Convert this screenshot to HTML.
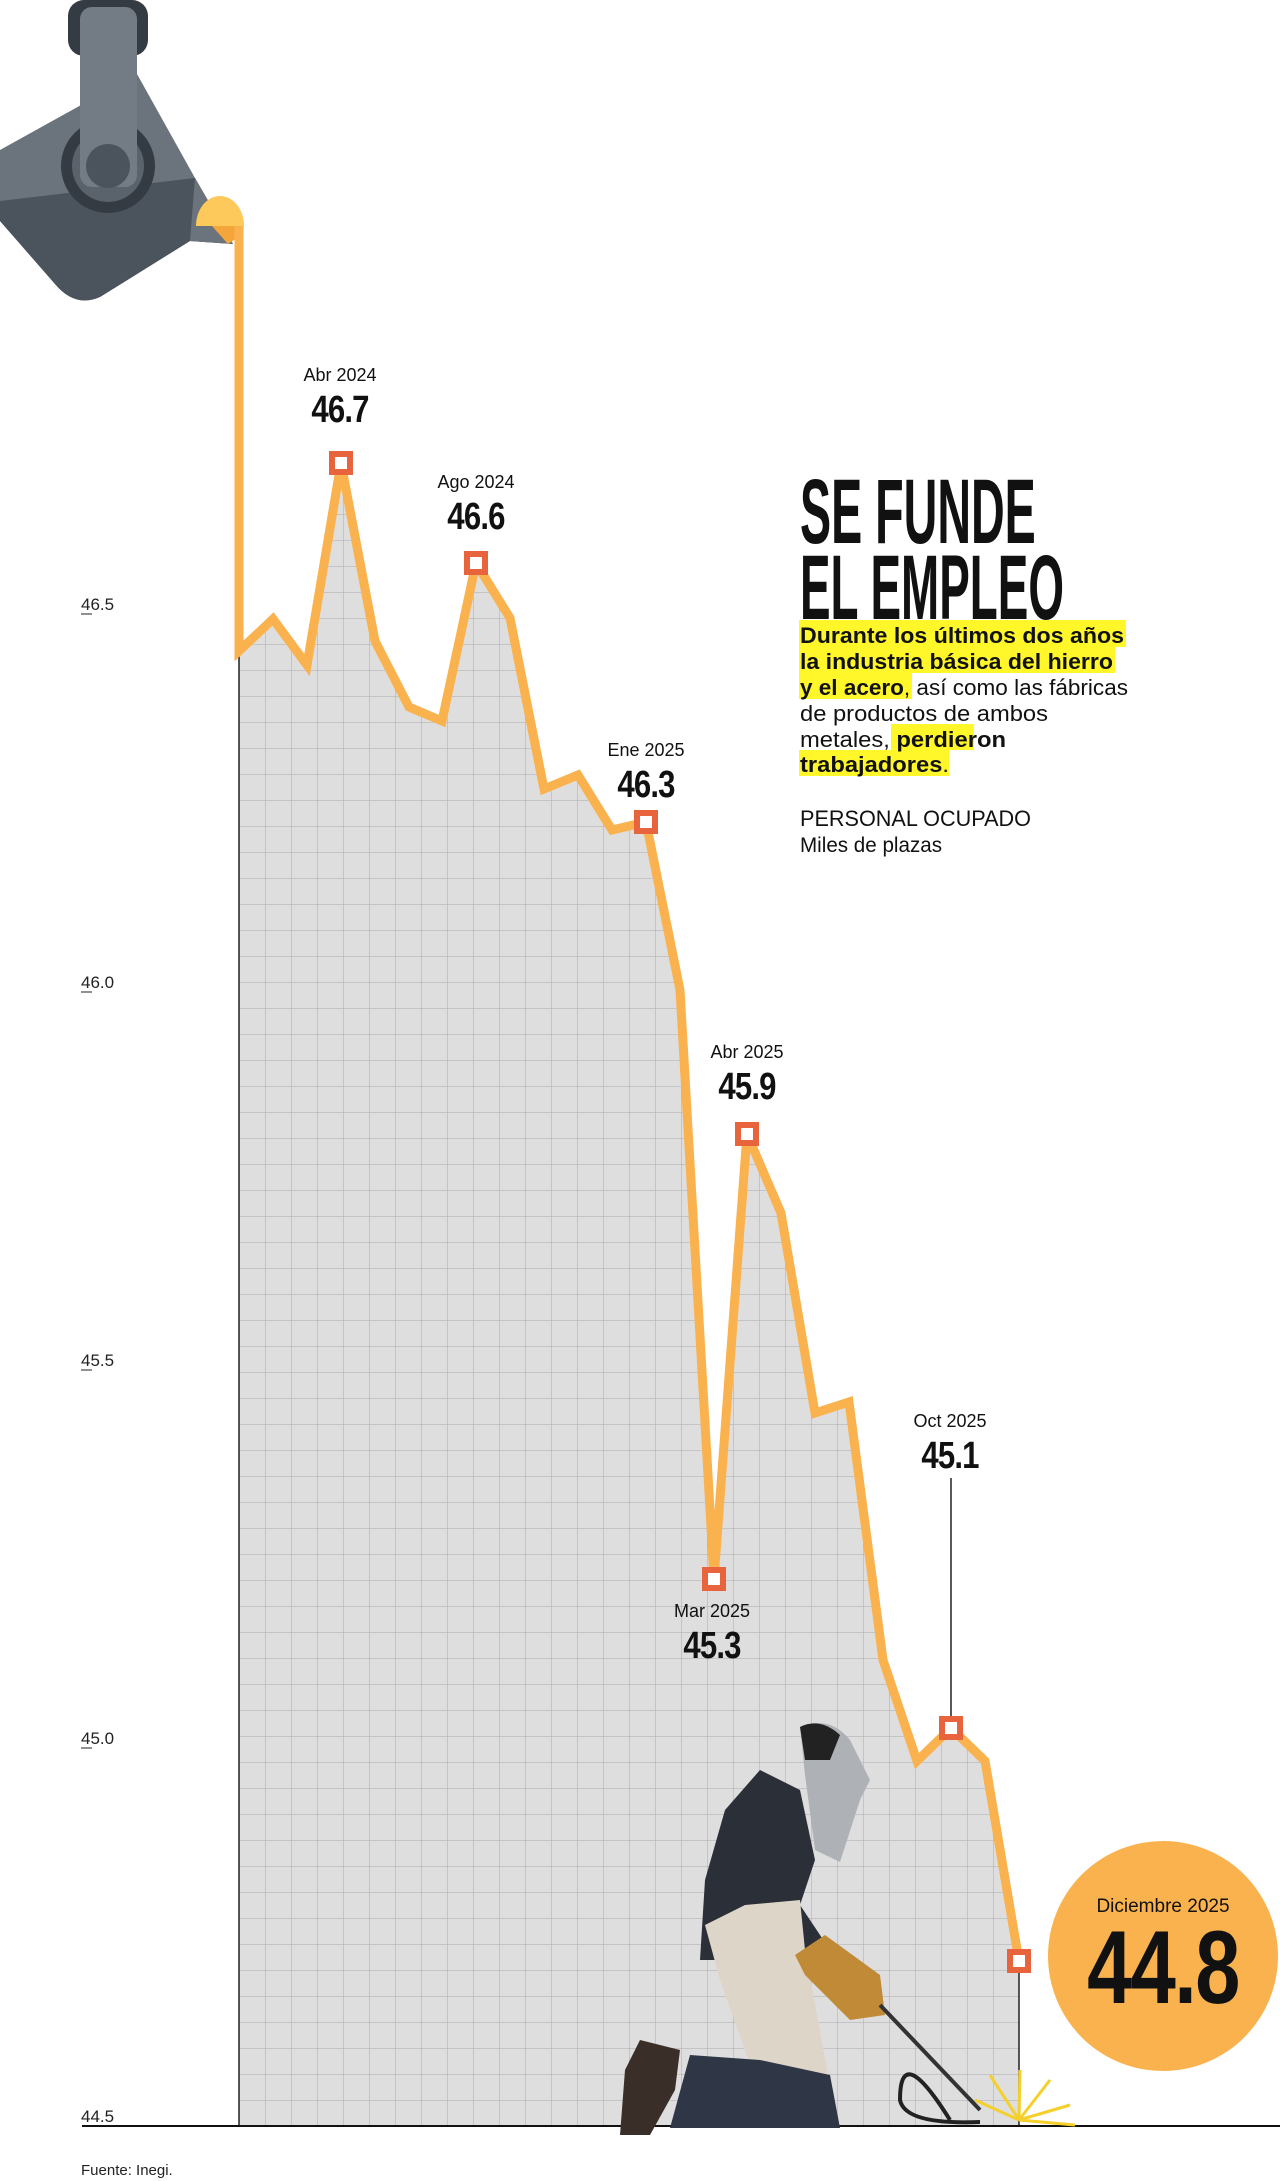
<!DOCTYPE html>
<html><head><meta charset="utf-8"><style>
html,body{margin:0;padding:0;background:#fff}
svg{display:block}
.sm{font-family:"Liberation Sans",sans-serif;font-size:18px;fill:#111;text-anchor:middle}
.big{font-family:"Liberation Sans",sans-serif;font-weight:bold;font-size:38px;fill:#111;text-anchor:middle;letter-spacing:-1px}
.ax{font-family:"Liberation Sans",sans-serif;font-size:17px;fill:#222}
.body{font-family:"Liberation Sans",sans-serif;font-size:22px;fill:#111}
.b{font-weight:bold}
</style></head><body>
<svg width="1280" height="2181" viewBox="0 0 1280 2181" xmlns="http://www.w3.org/2000/svg">
<defs>
<pattern id="g" x="239" y="2126" width="26" height="26" patternUnits="userSpaceOnUse">
<rect width="26" height="26" fill="#dedede"/>
<path d="M0 0V26M0 0H26" stroke="#b4b4b4" stroke-width="1.2" fill="none"/>
</pattern>
</defs>
<polygon fill="url(#g)" points="239,2126 239,651 273,619 307,665 341,463 375,641 409,707 442,721 476,563 510,618 544,789 578,775 612,830 646,822 680,990 714,1579 747,1134 781,1213 815,1413 849,1402 883,1660 917,1761 951,1728 985,1761 1019,1961 1019,2126"/>
<line x1="239" y1="651" x2="239" y2="2126" stroke="#222" stroke-width="1.5"/>
<line x1="1019" y1="1961" x2="1019" y2="2126" stroke="#222" stroke-width="1.5"/>
<line x1="951" y1="1478" x2="951" y2="1728" stroke="#222" stroke-width="1.5"/>
<line x1="82" y1="2126" x2="1280" y2="2126" stroke="#111" stroke-width="2"/>
<!-- crane -->
<rect x="68" y="0" width="80" height="56" rx="16" fill="#353b43"/>
<path d="M0,150 L137,74 L195,178 L233,244 L190,241 L100,297 Q75,308 55,284 L0,221 Z" fill="#6b737c"/>
<path d="M0,201 L195,178 L233,244 L190,241 L100,297 Q75,308 55,284 L0,221 Z" fill="#4b535c"/>
<path d="M195,178 L233,244 L190,241 Z" fill="#6b737c"/>
<circle cx="108" cy="166" r="47" fill="#353b43"/>
<circle cx="108" cy="166" r="36" fill="#5a626b"/>
<rect x="80" y="7" width="57" height="180" rx="12" fill="#737b85"/>
<circle cx="108" cy="166" r="22" fill="#4b535c"/>
<path d="M196,226 A24,30 0 0 1 244,226 Z" fill="#fcc95a"/>
<path d="M212,226 L244,226 L240,236 L228,244 Z" fill="#f5a63a"/>
<polyline fill="none" stroke="#f9b24e" stroke-width="9" stroke-linejoin="miter" points="239,226 239,651 273,619 307,665 341,463 375,641 409,707 442,721 476,563 510,618 544,789 578,775 612,830 646,822 680,990 714,1579 747,1134 781,1213 815,1413 849,1402 883,1660 917,1761 951,1728 985,1761 1019,1961"/>
<g fill="#fff" stroke="#e8643c" stroke-width="6">
<rect x="332" y="454" width="18" height="18"/>
<rect x="467" y="554" width="18" height="18"/>
<rect x="637" y="813" width="18" height="18"/>
<rect x="705" y="1570" width="18" height="18"/>
<rect x="738" y="1125" width="18" height="18"/>
<rect x="942" y="1719" width="18" height="18"/>
<rect x="1010" y="1952" width="18" height="18"/>
</g>
<text class="sm" x="340" y="381">Abr 2024</text><text class="big" x="340" y="422" transform="translate(340,0) scale(0.82,1) translate(-340,0)">46.7</text>
<text class="sm" x="476" y="488">Ago 2024</text><text class="big" x="476" y="529" transform="translate(476,0) scale(0.82,1) translate(-476,0)">46.6</text>
<text class="sm" x="646" y="756">Ene 2025</text><text class="big" x="646" y="797" transform="translate(646,0) scale(0.82,1) translate(-646,0)">46.3</text>
<text class="sm" x="747" y="1058">Abr 2025</text><text class="big" x="747" y="1099" transform="translate(747,0) scale(0.82,1) translate(-747,0)">45.9</text>
<text class="sm" x="712" y="1617">Mar 2025</text><text class="big" x="712" y="1658" transform="translate(712,0) scale(0.82,1) translate(-712,0)">45.3</text>
<text class="sm" x="950" y="1427">Oct 2025</text><text class="big" x="950" y="1468" transform="translate(950,0) scale(0.82,1) translate(-950,0)">45.1</text>
<text class="ax" x="81" y="610">46.5</text><line x1="81" y1="614" x2="92" y2="614" stroke="#222"/>
<text class="ax" x="81" y="988">46.0</text><line x1="81" y1="992" x2="92" y2="992" stroke="#222"/>
<text class="ax" x="81" y="1366">45.5</text><line x1="81" y1="1370" x2="92" y2="1370" stroke="#222"/>
<text class="ax" x="81" y="1744">45.0</text><line x1="81" y1="1748" x2="92" y2="1748" stroke="#222"/>
<text class="ax" x="81" y="2122">44.5</text>
<text class="ax" x="81" y="2175" style="font-size:15px">Fuente: Inegi.</text>
<g>
<path d="M800,1727 Q830,1715 850,1740 L870,1780 L860,1800 L840,1862 L815,1850 L805,1775 Z" fill="#aeb2b6"/>
<path d="M800,1727 Q820,1717 840,1735 L830,1760 L805,1760 Z" fill="#222"/>
<path d="M760,1770 L800,1790 L815,1860 L800,1905 L830,1950 L810,1965 L760,1930 L735,1960 L700,1960 L705,1880 L725,1810 Z" fill="#2a2f38"/>
<path d="M705,1925 L745,1905 L800,1900 L805,1950 L830,2085 L760,2093 L720,1980 Z" fill="#ddd5c8"/>
<path d="M795,1955 L825,1935 L880,1975 L885,2015 L850,2020 L805,1975 Z" fill="#c08a36"/>
<path d="M690,2055 L760,2060 L830,2075 L840,2128 L670,2128 Z" fill="#2f3645"/>
<path d="M640,2040 L680,2050 L675,2090 L650,2135 L620,2135 L625,2070 Z" fill="#3a2f28"/>
<path d="M880,2005 L980,2110" stroke="#333" stroke-width="4"/>
<path d="M950,2120 Q900,2040 900,2100 Q905,2125 980,2122" stroke="#222" stroke-width="4" fill="none"/>
<g stroke="#f5cf2a" stroke-width="3">
<line x1="1019" y1="2120" x2="990" y2="2075"/><line x1="1019" y1="2120" x2="1050" y2="2080"/>
<line x1="1019" y1="2120" x2="1070" y2="2105"/><line x1="1019" y1="2120" x2="975" y2="2100"/>
<line x1="1019" y1="2120" x2="1020" y2="2070"/><line x1="1019" y1="2120" x2="1075" y2="2125"/>
</g>
</g>
<circle cx="1163" cy="1956" r="115" fill="#f9b24e"/>
<text class="sm" x="1163" y="1912" style="font-size:19px">Diciembre  2025</text>
<text x="1163" y="2003" text-anchor="middle" font-family="Liberation Sans,sans-serif" font-weight="bold" font-size="104" fill="#111" transform="translate(1163,0) scale(0.78,1) translate(-1163,0)" letter-spacing="-2">44.8</text>
<text x="800" y="543" font-family="Liberation Sans,sans-serif" font-weight="bold" font-size="92" fill="#111" transform="translate(800,0) scale(0.6,1) translate(-800,0)" textLength="393" lengthAdjust="spacingAndGlyphs">SE FUNDE</text>
<text x="800" y="619" font-family="Liberation Sans,sans-serif" font-weight="bold" font-size="92" fill="#111" transform="translate(800,0) scale(0.6,1) translate(-800,0)" textLength="440" lengthAdjust="spacingAndGlyphs">EL EMPLEO</text>
<rect x="799" y="620" width="327" height="27" fill="#fff72a"/>
<rect x="799" y="647" width="316" height="26" fill="#fff72a"/>
<rect x="799" y="673" width="113" height="26" fill="#fff72a"/>
<rect x="891" y="724" width="83" height="26" fill="#fff72a"/>
<rect x="799" y="750" width="150" height="26" fill="#fff72a"/>
<text class="body b" x="800" y="643" textLength="324" lengthAdjust="spacingAndGlyphs">Durante los últimos dos años</text>
<text class="body b" x="800" y="669" textLength="313" lengthAdjust="spacingAndGlyphs">la industria básica del hierro</text>
<text class="body" x="800" y="695" textLength="328" lengthAdjust="spacingAndGlyphs"><tspan class="b">y el acero</tspan>, así como las fábricas</text>
<text class="body" x="800" y="721" textLength="248" lengthAdjust="spacingAndGlyphs">de productos de ambos</text>
<text class="body" x="800" y="747" textLength="206" lengthAdjust="spacingAndGlyphs">metales, <tspan class="b">perdieron</tspan></text>
<text class="body" x="800" y="772" textLength="149" lengthAdjust="spacingAndGlyphs"><tspan class="b">trabajadores</tspan>.</text>
<text class="body" x="800" y="826" textLength="231" lengthAdjust="spacingAndGlyphs">PERSONAL OCUPADO</text>
<text class="body" x="800" y="852" textLength="142" lengthAdjust="spacingAndGlyphs" style="font-size:21px">Miles de plazas</text>
</svg>
</body></html>
